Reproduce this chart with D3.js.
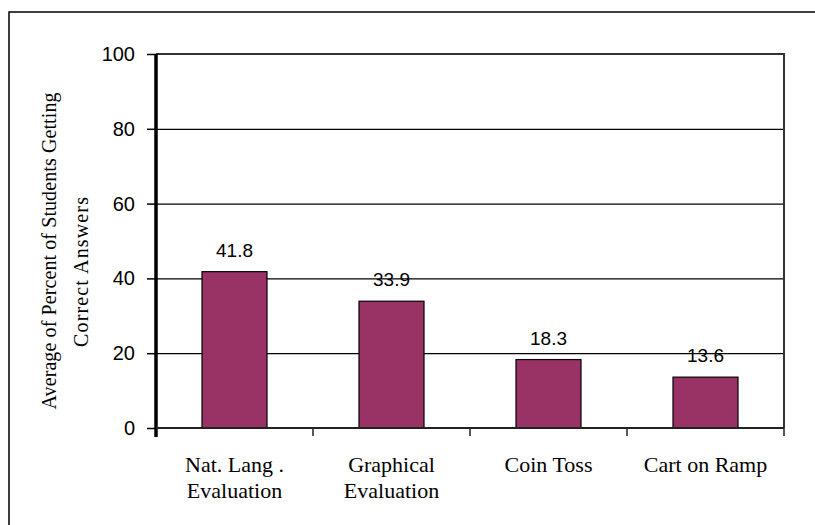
<!DOCTYPE html>
<html>
<head>
<meta charset="utf-8">
<script src="https://cdn.jsdelivr.net/npm/d3@7"></script>
<style>
  html, body { margin: 0; padding: 0; background: #ffffff; }
  svg { display: block; }
</style>
</head>
<body>
<script>
// ---- data ----
const categories = ["Nat. Lang. Evaluation", "Graphical Evaluation", "Coin Toss", "Cart on Ramp"];
const categoryLines = [["Nat. Lang .", "Evaluation"], ["Graphical", "Evaluation"], ["Coin Toss"], ["Cart on Ramp"]];
const values = [41.8, 33.9, 18.3, 13.6];
const valueLabels = ["41.8", "33.9", "18.3", "13.6"];
const yTicks = [0, 20, 40, 60, 80, 100];
const yTitleLines = ["Average of Percent of Students Getting", "Correct Answers"];

// ---- layout ----
const W = 815, H = 525;
const plot = { left: 156, right: 784, top: 54, bottom: 428 };

const svg = d3.select("body").append("svg").attr("width", W).attr("height", H);

// outer frame
svg.append("rect")
  .attr("x", 9).attr("y", 12).attr("width", W + 20).attr("height", H + 20)
  .attr("fill", "none").attr("stroke", "#000").attr("stroke-width", 1.5);

const x = d3.scaleBand().domain(categories).range([plot.left, plot.right])
  .paddingInner(0.586).paddingOuter(0.293);
const y = d3.scaleLinear().domain([0, 100]).range([plot.bottom, plot.top]);

// gridlines
const grid = svg.append("g").attr("transform", `translate(${plot.left},0)`)
  .call(d3.axisLeft(y).tickValues(yTicks.filter(t => t > 0 && t < 100)).tickSize(-(plot.right - plot.left)).tickFormat(""));
grid.select(".domain").remove();
grid.selectAll("line").attr("stroke", "#000").attr("stroke-width", 1.2);

// plot area border (top & right)
svg.append("path")
  .attr("d", `M${plot.left},${y(100)}H${plot.right}V${plot.bottom}`)
  .attr("fill", "none").attr("stroke", "#333").attr("stroke-width", 2);

// bars
svg.append("g").selectAll("rect").data(values).join("rect")
  .attr("x", (d, i) => x(categories[i]))
  .attr("y", d => y(d))
  .attr("width", x.bandwidth())
  .attr("height", d => y(0) - y(d))
  .attr("fill", "#993366")
  .attr("stroke", "#000").attr("stroke-width", 1.2);

// value labels
svg.append("g").selectAll("text").data(values).join("text")
  .attr("x", (d, i) => x(categories[i]) + x.bandwidth() / 2)
  .attr("y", d => y(d) - 15)
  .attr("text-anchor", "middle")
  .attr("font-family", "'Liberation Sans', Arial, sans-serif")
  .attr("font-size", 19)
  .attr("fill", "#000")
  .text((d, i) => valueLabels[i]);

// y axis
const yAxis = svg.append("g").attr("transform", `translate(${plot.left},0)`)
  .call(d3.axisLeft(y).tickValues(yTicks).tickSize(9).tickPadding(12).tickFormat(d3.format("d")));
yAxis.select(".domain").attr("d", `M0,${y(100)}V${y(0) + 9}`).attr("stroke", "#000").attr("stroke-width", 3.5);
yAxis.selectAll(".tick line").attr("stroke", "#000").attr("stroke-width", 1.5);
yAxis.selectAll(".tick text")
  .attr("font-family", "'Liberation Sans', Arial, sans-serif")
  .attr("font-size", 20).attr("fill", "#000");

// x axis baseline and ticks at category boundaries
svg.append("line")
  .attr("x1", plot.left).attr("x2", plot.right).attr("y1", y(0)).attr("y2", y(0))
  .attr("stroke", "#222").attr("stroke-width", 2);
const boundaries = categories.map(c => x(c) - x.step() * x.paddingInner() / 2 + x.step());
svg.append("g").selectAll("line").data(boundaries).join("line")
  .attr("x1", d => d).attr("x2", d => d)
  .attr("y1", y(0)).attr("y2", y(0) + 8)
  .attr("stroke", "#222").attr("stroke-width", 1.5);

// x category labels
const xl = svg.append("g").selectAll("text").data(categoryLines).join("text")
  .attr("x", (d, i) => x(categories[i]) + x.bandwidth() / 2)
  .attr("y", 472)
  .attr("text-anchor", "middle")
  .attr("font-family", "'Liberation Serif', 'Times New Roman', serif")
  .attr("font-size", 22)
  .attr("fill", "#000");
xl.selectAll("tspan").data(d => d).join("tspan")
  .attr("x", function () { return d3.select(this.parentNode).attr("x"); })
  .attr("dy", (d, i) => i === 0 ? 0 : 26)
  .text(d => d);

// y axis title (two rotated lines)
const titlePos = [{ cx: 56, cy: 251, len: 317 }, { cx: 88, cy: 272, len: 150 }];
svg.append("g").selectAll("text").data(yTitleLines).join("text")
  .attr("transform", (d, i) => `translate(${titlePos[i].cx},${titlePos[i].cy}) rotate(-90)`)
  .attr("text-anchor", "middle")
  .attr("font-family", "'Liberation Serif', 'Times New Roman', serif")
  .attr("font-size", 20)
  .attr("textLength", (d, i) => titlePos[i].len)
  .attr("lengthAdjust", "spacing")
  .attr("fill", "#000")
  .text(d => d);
</script>
</body>
</html>
